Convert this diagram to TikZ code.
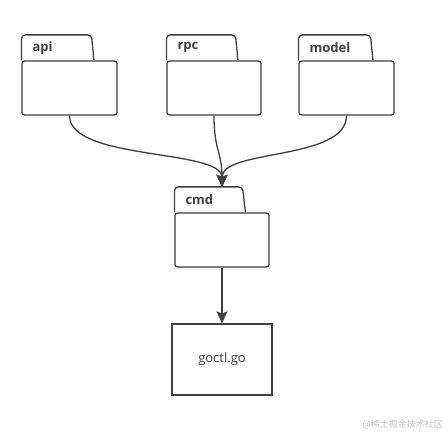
\documentclass[tikz,border=0pt]{standalone}
\usepackage{fontspec}
\setmainfont{Open Sans}
\newfontfamily\cjkfont{Noto Sans CJK SC}
\usetikzlibrary{arrows.meta}
\definecolor{ink}{HTML}{3F3F3F}
\definecolor{wm}{HTML}{C4C4C4}
\tikzset{
  fbody/.style={draw=ink, line width=1.3pt, rounded corners=2.5pt, minimum height=54pt, inner sep=0pt, fill=white},
  ftab/.style={draw=ink, line width=1.3pt, rounded corners=4pt},
  flabel/.style={anchor=west, text=ink, font=\fontsize{13}{15}\selectfont\bfseries, inner sep=0pt},
  filebox/.style={draw=ink, line width=1.2pt, minimum width=100pt, minimum height=71pt, inner sep=0pt, text=ink, font=\fontsize{13}{15}\selectfont},
  conn/.style={draw=ink, line width=1.3pt, -{Stealth[length=12pt,width=11pt,inset=2pt]}},
}
\begin{document}
\begin{tikzpicture}[x=1pt,y=-1pt]
\useasboundingbox (0,0) rectangle (448,434);
% folder bodies
\node[fbody, minimum width=95pt] (api) at (69.5,88) {};
\node[fbody, minimum width=94pt] (rpc) at (214,88) {};
\node[fbody, minimum width=95pt] (model) at (346.5,88) {};
\node[fbody, minimum width=94pt] (cmd) at (222,240) {};
% tabs
\draw[ftab] ([xshift=0.1pt]api.north west) -- ++(0,-25.5) -- ++(70,0) -- ++(2.5,25.5);
\draw[ftab] ([xshift=0.1pt]rpc.north west) -- ++(0,-25.5) -- ++(69,0) -- ++(2.5,25.5);
\draw[ftab] ([xshift=0.1pt]model.north west) -- ++(0,-25.5) -- ++(72,0) -- ++(2.5,25.5);
\draw[ftab] ([xshift=0.1pt]cmd.north west) -- ++(0,-25.5) -- ++(68,0) -- ++(3,25.5);
% labels
\node[flabel] (apil) at ([xshift=11pt,yshift=12.5pt]api.north west) {api};
\node[flabel] (rpcl) at ([xshift=11pt,yshift=12.5pt]rpc.north west) {rpc};
\node[flabel] (modell) at ([xshift=11pt,yshift=12.5pt]model.north west) {model};
\node[flabel] (cmdl) at ([xshift=11pt,yshift=12.5pt]cmd.north west) {cmd};
% goctl box
\node[filebox] (goctl) at (222,359.5) {goctl.go};
% connectors
\coordinate (cmdin) at ([yshift=25.5pt]cmd.north);
\draw[conn] (api.south) .. controls ++(0,45) and ([yshift=38pt]cmdin) .. (cmdin);
\draw[conn] (model.south) .. controls ++(0,45) and ([yshift=38pt]cmdin) .. (cmdin);
\draw[conn] (rpc.south) .. controls ++(0,35) and ([yshift=35pt]cmdin) .. (cmdin);
\draw[conn] (cmd.south) -- (goctl.north);
% watermark
\node[anchor=east, text=wm, inner sep=0pt, font=\cjkfont\fontsize{9}{10}\selectfont] (wmark) at (443,424) {@稀土掘金技术社区};
\end{tikzpicture}
\end{document}
